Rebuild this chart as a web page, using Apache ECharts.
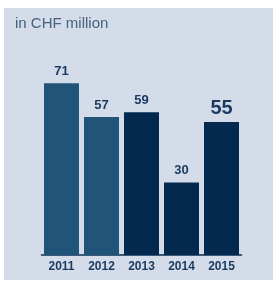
<!DOCTYPE html>
<html>
<head>
<meta charset="utf-8">
<script src="https://cdn.jsdelivr.net/npm/echarts@6/dist/echarts.min.js"></script>
<style>
    html, body {
        margin: 0;
        padding: 0;
        background: #ffffff;
    }
    #chart {
        position: absolute;
        left: 4px;
        top: 8px;
        width: 269px;
        height: 272px;
    }
</style>
</head>
<body>
<div id="chart"></div>
<script>
const years = ['2011', '2012', '2013', '2014', '2015']
const values = [71, 57, 59, 30, 55]

const lightBar = '#215479'
const darkBar = '#03294f'
const textColor = '#1c3a5f'

const chart = echarts.init(document.getElementById('chart'))

const barData = values.map((v, i) => {
    const last = i === values.length - 1
    return {
        value: v,
        itemStyle: { color: i < 2 ? lightBar : darkBar },
        label: {
            fontSize: last ? 20 : 13,
            distance: last ? 3 : 5
        }
    }
})

chart.setOption({
    backgroundColor: '#d3dce8',
    title: {
        text: 'in CHF million',
        left: 11,
        top: 8,
        padding: 0,
        textStyle: {
            fontFamily: 'Liberation Sans',
            fontSize: 15,
            fontWeight: 'normal',
            color: '#46627f'
        }
    },
    grid: {
        left: 37.5,
        width: 200,
        bottom: 25,
        top: 53.4
    },
    xAxis: {
        type: 'category',
        data: years,
        axisTick: { show: false },
        axisLine: {
            lineStyle: { color: '#0e2f55', width: 1.5 }
        },
        axisLabel: {
            margin: 6,
            fontFamily: 'Liberation Sans',
            fontSize: 12,
            fontWeight: 'bold',
            color: textColor
        }
    },
    yAxis: {
        type: 'value',
        min: 0,
        max: 80,
        show: false,
        splitLine: { show: false }
    },
    series: [
        {
            type: 'bar',
            data: barData,
            barWidth: 35,
            label: {
                show: true,
                position: 'top',
                fontFamily: 'Liberation Sans',
                fontWeight: 'bold',
                color: textColor
            }
        }
    ]
})
</script>
</body>
</html>
